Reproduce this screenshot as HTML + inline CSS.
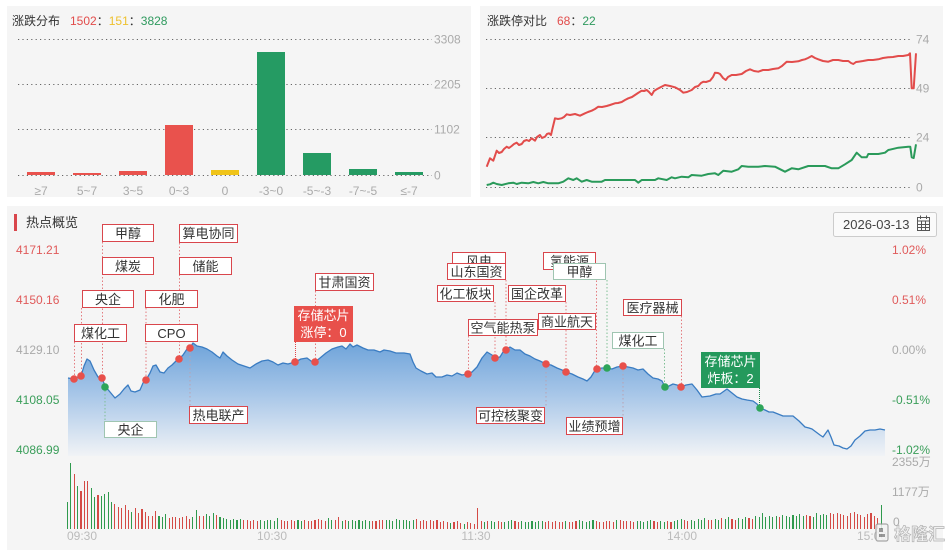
<!DOCTYPE html>
<html><head><meta charset="utf-8">
<style>
html,body{margin:0;padding:0;background:#fff;}
body{width:947px;height:550px;position:relative;overflow:hidden;font-family:"Liberation Sans","Noto Sans CJK SC",sans-serif;}
svg{position:absolute;left:0;top:0;}
text{font-family:"Liberation Sans","Noto Sans CJK SC",sans-serif;}
#vol{position:absolute;left:66.9px;top:0;height:529px;display:flex;align-items:flex-end;}
#vol i,#vol u{display:block;flex:none;width:1.1px;margin-right:2.31px;}
#vol i{background:#2f9a4d;}
#vol u{background:#d44a45;}
</style></head><body>
<svg width="947" height="550" viewBox="0 0 947 550">
<defs>
<linearGradient id="ag" x1="0" y1="343" x2="0" y2="456" gradientUnits="userSpaceOnUse">
<stop offset="0" stop-color="#6fa4da"/>
<stop offset="0.45" stop-color="#a7c6e8"/>
<stop offset="1" stop-color="#f1f3f6"/>
</linearGradient>
</defs>
<!-- panels -->
<rect x="7" y="6" width="464" height="191" fill="#f5f5f5"/>
<rect x="480" y="6" width="463" height="191" fill="#f5f5f5"/>
<rect x="7" y="206" width="936" height="344" fill="#f5f5f5"/>

<!-- top-left panel -->
<text x="12" y="25" font-size="12" fill="#333">涨跌分布</text>
<text x="70" y="25" font-size="12"><tspan fill="#e24c4b">1502</tspan><tspan fill="#333">：</tspan><tspan fill="#eec12e">151</tspan><tspan fill="#333">：</tspan><tspan fill="#2f9a5e">3828</tspan></text>
<g stroke="#666" stroke-width="1" stroke-dasharray="1.2 3.2">
<line x1="18" y1="39.5" x2="432" y2="39.5"/>
<line x1="18" y1="84.5" x2="432" y2="84.5"/>
<line x1="18" y1="129.5" x2="432" y2="129.5"/>
<line x1="18" y1="175.5" x2="432" y2="175.5"/>
</g>
<g font-size="12" fill="#aaa">
<text x="434" y="43.5">3308</text>
<text x="434" y="88.5">2205</text>
<text x="434" y="133.5">1102</text>
<text x="434" y="179.5">0</text>
</g>
<rect x="27" y="172" width="28" height="3" fill="#e9524d"/>
<rect x="73" y="173" width="28" height="2" fill="#e9524d"/>
<rect x="119" y="171" width="28" height="4" fill="#e9524d"/>
<rect x="165" y="125" width="28" height="50" fill="#e9524d"/>
<rect x="211" y="170" width="28" height="5" fill="#f0c419"/>
<rect x="257" y="52" width="28" height="123" fill="#259b63"/>
<rect x="303" y="153" width="28" height="22" fill="#259b63"/>
<rect x="349" y="169" width="28" height="6" fill="#259b63"/>
<rect x="395" y="172" width="28" height="3" fill="#259b63"/>
<g font-size="12" fill="#aaa" text-anchor="middle">
<text x="41" y="195">≥7</text>
<text x="87" y="195">5~7</text>
<text x="133" y="195">3~5</text>
<text x="179" y="195">0~3</text>
<text x="225" y="195">0</text>
<text x="271" y="195">-3~0</text>
<text x="317" y="195">-5~-3</text>
<text x="363" y="195">-7~-5</text>
<text x="409" y="195">≤-7</text>
</g>

<!-- top-right panel -->
<text x="487" y="25" font-size="12" fill="#333">涨跌停对比</text>
<text x="557" y="25" font-size="12"><tspan fill="#e24c4b">68</tspan><tspan fill="#333">：</tspan><tspan fill="#2f9a5e">22</tspan></text>
<g stroke="#666" stroke-width="1" stroke-dasharray="1.2 3.2">
<line x1="486" y1="39.5" x2="912" y2="39.5"/>
<line x1="486" y1="88.5" x2="912" y2="88.5"/>
<line x1="486" y1="137.5" x2="912" y2="137.5"/>
<line x1="486" y1="187.5" x2="912" y2="187.5"/>
</g>
<g font-size="12" fill="#aaa">
<text x="916" y="43.5">74</text>
<text x="916" y="92.5">49</text>
<text x="916" y="141.5">24</text>
<text x="916" y="191.5">0</text>
</g>
<polyline fill="none" stroke="#e24c4b" stroke-width="2" stroke-linejoin="round" points="486.7,166.7 490,158.3 493.3,160.7 496.7,150.7 499,153 501.7,152 504,149 506.7,146.7 509,148 511.7,146 514,144 516.7,142.7 519,145 521.7,144 524,141 526.7,140 529,141 531.7,138.3 535,140.7 537,137 540,135 542,138 545,136.7 547,134 549,133.3 551,135 552.3,129.3 555,118.3 558,119 561.7,118.3 564,117 566.7,114.3 570,115 575,114 580,115.7 585,113.3 588,112 591.7,110.7 595,109 598.3,106.7 602,107 606.7,106 610,105 615,103.3 618,103 621.7,102 625,100 628.3,98.3 632,97 635,95 638,93 641.7,90.7 644,91 646.7,90 649,92 651.7,95 654,91 656.7,89.3 661,87 665,85 670,86 675,87.3 680,90 683.3,92.7 687,92 691.7,90 695,87 698.3,86 701,83 703.3,81.7 706,82 710,80.7 713,77 715,72.7 718,73 720,74 723,78 725.7,80 728,77 731.7,75 736,75 741.7,74 746,71 750,69.3 754,71 758.3,71.7 763,70 768.3,70 773,69 778.3,68.3 782,66 786.7,61.7 792,62 798.3,61.3 802,60 805,59.3 808,58 811.7,56 815,58 818.3,59.3 823,61 828.3,61.7 833,60 838.3,60 843,61 848.3,61 851,63 853.3,64 856,62 858.3,61.7 863,61 868.3,60 873,60 878.3,59.3 883,58 888.3,57.3 893,57 898.3,56 903,56 908.3,55 910,53.3 911.7,88.3 913.7,88.3 916,53.3"/>
<polyline fill="none" stroke="#2a9a5a" stroke-width="2" stroke-linejoin="round" points="486.7,185 490,184.3 493.3,182.7 496.7,184 501.7,185 508.3,183.3 513.3,182.7 516.7,184 521.7,182.7 528.3,183.3 533.3,182 538.3,183.3 543.3,182 548.3,183.3 558.3,183.3 563.3,181.7 568.3,178.3 573.3,180 576.7,178.3 581.7,181.7 586.7,180 591.7,181.7 601.7,181.7 605,180 635,180 638.3,182.7 641.7,180 655,180 658.3,178.3 666.7,180 671.7,177.3 675,178.3 681.7,176.7 688.3,177.3 691.7,175 701.7,175.7 708.3,174 715,173.3 718.3,175 723.3,170.7 731.7,171.7 738.3,169.3 741.7,166 748.3,166.7 758.3,166.7 765,166 775,166.7 785,171.7 791.7,168.3 798.3,169.3 808.3,166 825,166 831.7,168.3 838.3,168.3 845,164.3 851.7,160 856.7,152.7 861.7,157.3 866.7,157.3 868.3,154 878.3,154 885,152.7 888.3,150 898.3,147.7 908.3,146.7 910.3,146.7 911.7,157.3 913.7,158 916,144.3"/>

<!-- main panel header -->
<rect x="14" y="214" width="3" height="17" fill="#d9464c"/>
<text x="26" y="227" font-size="13" fill="#333">热点概览</text>
<rect x="833.5" y="212.5" width="103" height="24" rx="2" fill="#fafafa" stroke="#ccc"/>
<text x="843" y="229" font-size="13" fill="#444">2026-03-13</text>
<g stroke="#555" fill="none" stroke-width="1">
<rect x="917.5" y="217.5" width="12" height="13"/>
<line x1="917.5" y1="221" x2="929.5" y2="221"/>
<line x1="920.5" y1="215.5" x2="920.5" y2="219"/>
<line x1="926.5" y1="215.5" x2="926.5" y2="219"/>
<line x1="921.5" y1="221" x2="921.5" y2="230"/>
<line x1="925.5" y1="221" x2="925.5" y2="230"/>
<line x1="917.5" y1="224.5" x2="929.5" y2="224.5"/>
<line x1="917.5" y1="227.5" x2="929.5" y2="227.5"/>
</g>

<!-- axis labels -->
<g font-size="12">
<text x="16" y="254" fill="#e05a5a">4171.21</text>
<text x="16" y="304" fill="#e05a5a">4150.16</text>
<text x="16" y="354" fill="#aaa">4129.10</text>
<text x="16" y="404" fill="#3a9e5a">4108.05</text>
<text x="16" y="454" fill="#3a9e5a">4086.99</text>
<text x="892" y="254" fill="#e05a5a">1.02%</text>
<text x="892" y="304" fill="#e05a5a">0.51%</text>
<text x="892" y="354" fill="#aaa">0.00%</text>
<text x="892" y="404" fill="#3a9e5a">-0.51%</text>
<text x="892" y="454" fill="#3a9e5a">-1.02%</text>
<text x="892" y="466" fill="#aaa">2355万</text>
<text x="892" y="496" fill="#aaa">1177万</text>
<text x="893" y="526" fill="#aaa">0</text>
<text x="67" y="540" fill="#bbb">09:30</text>
<text x="272" y="540" fill="#bbb" text-anchor="middle">10:30</text>
<text x="476" y="540" fill="#bbb" text-anchor="middle">11:30</text>
<text x="682" y="540" fill="#bbb" text-anchor="middle">14:00</text>
<text x="887" y="540" fill="#bbb" text-anchor="end">15:00</text>
</g>

<!-- price area -->
<path fill="url(#ag)" d="M68,378 L74,379 78,377 81,376 84,366 87,359 90,361 94,370 98,377 102,378 105,386 110,392 115,398 120,394 124,389 128,385 131,391 135,392 140,390 143,383 146,380 150,373 153,366 156,365 160,372 164,373 168,368 172,365 176,361 179,359 183,355 187,349 190,348 193,343 197,346 202,347 207,349 212,352 217,356 220,358 223,352 227,356 232,360 238,364 244,366 250,368 256,364 262,361 268,360 273,362 278,365 283,363 288,364 295,362 301,359 307,358 311,361 315,362 320,358 326,353 332,349 338,347 342,346 346,349 350,344 353,347 357,345 363,348 368,350 374,350 380,352 384,350 390,351 396,353 404,353 410,354 413,362 416,368 421,371 427,374 432,373 436,377 442,377 447,375 452,376 457,373 462,375 468,374 472,372 477,367 482,358 487,352 492,355 495,358 500,357 503,352 506,350 510,347 515,350 520,350 525,354 530,356 535,359 540,361 546,364 551,365 557,368 562,370 566,372 572,374 578,377 583,379 587,381 591,377 594,372 597,369 602,368 607,368 612,369 617,367 623,366 628,367 633,368 638,370 643,369 648,374 653,378 658,379 662,381 665,387 669,386 673,384 677,385 681,387 686,385 692,384 697,390 702,397 710,396 716,394 720,394 727,389 732,393 737,397 742,399 747,400 753,401 757,404 760,408 765,410 769,412 773,412 778,414 783,416 788,416 793,416 799,421 805,427 809,428 812,429 816,432 820,435 823,437 828,430 831,437 834,445 839,446 843,448 847,449 851,446 855,440 860,436 865,431 870,430 875,430 880,429 885,430 L885,456 L68,456 Z"/>
<polyline fill="none" stroke="#3a7cc2" stroke-width="1.3" stroke-linejoin="round" points="68,378 74,379 78,377 81,376 84,366 87,359 90,361 94,370 98,377 102,378 105,386 110,392 115,398 120,394 124,389 128,385 131,391 135,392 140,390 143,383 146,380 150,373 153,366 156,365 160,372 164,373 168,368 172,365 176,361 179,359 183,355 187,349 190,348 193,343 197,346 202,347 207,349 212,352 217,356 220,358 223,352 227,356 232,360 238,364 244,366 250,368 256,364 262,361 268,360 273,362 278,365 283,363 288,364 295,362 301,359 307,358 311,361 315,362 320,358 326,353 332,349 338,347 342,346 346,349 350,344 353,347 357,345 363,348 368,350 374,350 380,352 384,350 390,351 396,353 404,353 410,354 413,362 416,368 421,371 427,374 432,373 436,377 442,377 447,375 452,376 457,373 462,375 468,374 472,372 477,367 482,358 487,352 492,355 495,358 500,357 503,352 506,350 510,347 515,350 520,350 525,354 530,356 535,359 540,361 546,364 551,365 557,368 562,370 566,372 572,374 578,377 583,379 587,381 591,377 594,372 597,369 602,368 607,368 612,369 617,367 623,366 628,367 633,368 638,370 643,369 648,374 653,378 658,379 662,381 665,387 669,386 673,384 677,385 681,387 686,385 692,384 697,390 702,397 710,396 716,394 720,394 727,389 732,393 737,397 742,399 747,400 753,401 757,404 760,408 765,410 769,412 773,412 778,414 783,416 788,416 793,416 799,421 805,427 809,428 812,429 816,432 820,435 823,437 828,430 831,437 834,445 839,446 843,448 847,449 851,446 855,440 860,436 865,431 870,430 875,430 880,429 885,430"/>

<!-- connectors -->
<g stroke="#e47c80" stroke-width="1" stroke-dasharray="1.5 2" fill="none">
<line x1="74.5" y1="342" x2="74.5" y2="379"/>
<line x1="81.5" y1="308" x2="81.5" y2="376"/>
<line x1="102.5" y1="242" x2="102.5" y2="378"/>
<line x1="146" y1="308" x2="146" y2="380"/>
<line x1="179.5" y1="243" x2="179.5" y2="359"/>
<line x1="315.5" y1="291" x2="315.5" y2="362"/>
<line x1="468.5" y1="336" x2="468.5" y2="374"/>
<line x1="495" y1="302" x2="495" y2="358"/>
<line x1="506" y1="280" x2="506" y2="350"/>
<line x1="566" y1="302" x2="566" y2="372"/>
<line x1="596.5" y1="270" x2="596.5" y2="369"/>
<line x1="681.5" y1="316" x2="681.5" y2="387"/>
</g>
<g stroke="#e0464c" stroke-width="1" stroke-dasharray="1 1">
<line x1="295.5" y1="342" x2="295.5" y2="362"/>
</g>
<g stroke="#b9a2b2" stroke-width="1" stroke-dasharray="1.5 2.5">
<line x1="190" y1="348" x2="190" y2="406"/>
<line x1="546" y1="364" x2="546" y2="407"/>
<line x1="623" y1="366" x2="623" y2="417"/>
</g>
<g stroke="#7fbf95" stroke-width="1" stroke-dasharray="1.5 2">
<line x1="105" y1="387" x2="105" y2="421"/>
<line x1="607" y1="280" x2="607" y2="368"/>
<line x1="664.5" y1="349" x2="664.5" y2="387"/>
</g>
<g stroke="#1e8a4c" stroke-width="1" stroke-dasharray="1 1">
<line x1="759.5" y1="388" x2="759.5" y2="408"/>
</g>

<!-- dots -->
<g fill="#e8504b">
<circle cx="74" cy="379" r="3.8"/><circle cx="81" cy="376" r="3.8"/><circle cx="102" cy="378" r="3.8"/>
<circle cx="146" cy="380" r="3.8"/><circle cx="179" cy="359" r="3.8"/><circle cx="190" cy="348" r="3.8"/>
<circle cx="295" cy="362" r="3.8"/><circle cx="315" cy="362" r="3.8"/><circle cx="468" cy="374" r="3.8"/>
<circle cx="495" cy="358" r="3.8"/><circle cx="506" cy="350" r="3.8"/><circle cx="546" cy="364" r="3.8"/>
<circle cx="566" cy="372" r="3.8"/><circle cx="597" cy="369" r="3.8"/><circle cx="623" cy="366" r="3.8"/>
<circle cx="681" cy="387" r="3.8"/>
</g>
<g fill="#2ea55a">
<circle cx="105" cy="387" r="3.8"/><circle cx="607" cy="368" r="3.8"/><circle cx="665" cy="387" r="3.8"/><circle cx="760" cy="408" r="3.8"/>
</g>

<!-- labels -->
<g font-size="13" fill="#333" text-anchor="middle">
<g fill="#fff" stroke="#d9464c" stroke-width="1">
<rect x="102.5" y="224.5" width="51" height="17"/>
<rect x="179.5" y="224.5" width="58" height="18"/>
<rect x="102.5" y="257.5" width="51" height="17"/>
<rect x="179.5" y="257.5" width="52" height="17"/>
<rect x="82.5" y="290.5" width="51" height="17"/>
<rect x="145.5" y="290.5" width="52" height="17"/>
<rect x="74.5" y="324.5" width="52" height="17"/>
<rect x="145.5" y="324.5" width="52" height="17"/>
<rect x="189.5" y="406.5" width="58" height="17"/>
<rect x="315.5" y="273.5" width="58" height="17"/>
<rect x="452.5" y="252.5" width="53" height="17"/>
</g>
<text x="128" y="238">甲醇</text>
<text x="208.5" y="238">算电协同</text>
<text x="128" y="271">煤炭</text>
<text x="205.5" y="271">储能</text>
<text x="108" y="304">央企</text>
<text x="171.5" y="304">化肥</text>
<text x="100.5" y="338">煤化工</text>
<text x="171.5" y="338">CPO</text>
<text x="218.5" y="420">热电联产</text>
<text x="344.5" y="287">甘肃国资</text>
<text x="479" y="266">风电</text>
<rect x="447.5" y="263.5" width="58" height="16" fill="#fff" stroke="#d9464c"/>
<text x="476.5" y="276.5">山东国资</text>
<g fill="#fff" stroke="#d9464c" stroke-width="1">
<rect x="437.5" y="285.5" width="56" height="16"/>
<rect x="508.5" y="285.5" width="57" height="16"/>
<rect x="468.5" y="319.5" width="69" height="16"/>
<rect x="538.5" y="313.5" width="57" height="16"/>
<rect x="543.5" y="252.5" width="52" height="17"/>
</g>
<text x="465.5" y="298.5">化工板块</text>
<text x="537" y="298.5">国企改革</text>
<text x="503" y="332.5">空气能热泵</text>
<text x="567" y="326.5">商业航天</text>
<text x="569.5" y="266">氢能源</text>
<rect x="553.5" y="263.5" width="52" height="16" fill="#fff" stroke="#9fc5b1"/>
<text x="579.5" y="276.5">甲醇</text>
<rect x="104.5" y="421.5" width="52" height="16" fill="#fff" stroke="#9fc5b1"/>
<text x="130.5" y="434.5">央企</text>
<g fill="#fff" stroke="#d9464c" stroke-width="1">
<rect x="476.5" y="407.5" width="68" height="16"/>
<rect x="566.5" y="417.5" width="56" height="17"/>
<rect x="623.5" y="299.5" width="58" height="16"/>
</g>
<text x="510.5" y="420.5">可控核聚变</text>
<text x="594.5" y="431">业绩预增</text>
<text x="652.5" y="312.5">医疗器械</text>
<rect x="612.5" y="332.5" width="51" height="16" fill="#fff" stroke="#9fc5b1"/>
<text x="638" y="345.5">煤化工</text>
<rect x="294" y="306" width="59" height="36" fill="#e8504b"/>
<text x="323.5" y="320" fill="#fff">存储芯片</text>
<text x="323.5" y="337" fill="#fff">涨停：0</text>
<rect x="701" y="352" width="59" height="36" fill="#24995c"/>
<text x="730.5" y="366" fill="#fff">存储芯片</text>
<text x="730.5" y="383" fill="#fff">炸板：2</text>
</g>
</svg>

<div id="vol"><i style="height:27px"></i><i style="height:66px"></i><u style="height:55px"></u><i style="height:43px"></i><u style="height:38px"></u><u style="height:48px"></u><u style="height:48px"></u><i style="height:41px"></i><i style="height:32px"></i><u style="height:34px"></u><i style="height:33px"></i><i style="height:35px"></i><i style="height:37px"></i><i style="height:27px"></i><u style="height:25px"></u><u style="height:22px"></u><u style="height:21px"></u><u style="height:24px"></u><u style="height:19px"></u><i style="height:17px"></i><u style="height:21px"></u><u style="height:16px"></u><u style="height:20px"></u><u style="height:17px"></u><u style="height:13px"></u><u style="height:13px"></u><u style="height:18px"></u><i style="height:13px"></i><i style="height:12px"></i><i style="height:15px"></i><u style="height:11px"></u><u style="height:12px"></u><u style="height:12px"></u><u style="height:11px"></u><u style="height:12px"></u><u style="height:13px"></u><u style="height:10px"></u><i style="height:12px"></i><i style="height:19px"></i><u style="height:13px"></u><u style="height:13px"></u><i style="height:15px"></i><i style="height:13px"></i><i style="height:16px"></i><u style="height:14px"></u><i style="height:12px"></i><i style="height:11px"></i><i style="height:10px"></i><i style="height:9px"></i><i style="height:10px"></i><i style="height:9px"></i><i style="height:10px"></i><u style="height:9px"></u><u style="height:9px"></u><u style="height:8px"></u><u style="height:9px"></u><u style="height:8px"></u><i style="height:9px"></i><i style="height:8px"></i><i style="height:9px"></i><i style="height:9px"></i><i style="height:8px"></i><i style="height:11px"></i><u style="height:9px"></u><u style="height:8px"></u><u style="height:8px"></u><u style="height:9px"></u><u style="height:8px"></u><i style="height:9px"></i><i style="height:8px"></i><u style="height:9px"></u><u style="height:8px"></u><u style="height:8px"></u><u style="height:9px"></u><u style="height:10px"></u><u style="height:9px"></u><u style="height:8px"></u><i style="height:11px"></i><i style="height:9px"></i><u style="height:9px"></u><u style="height:12px"></u><i style="height:8px"></i><u style="height:9px"></u><i style="height:8px"></i><i style="height:9px"></i><i style="height:8px"></i><i style="height:9px"></i><i style="height:8px"></i><i style="height:9px"></i><i style="height:8px"></i><u style="height:8px"></u><u style="height:8px"></u><u style="height:9px"></u><u style="height:9px"></u><i style="height:9px"></i><i style="height:9px"></i><i style="height:8px"></i><i style="height:10px"></i><i style="height:9px"></i><i style="height:9px"></i><i style="height:9px"></i><i style="height:8px"></i><i style="height:9px"></i><u style="height:10px"></u><u style="height:8px"></u><u style="height:9px"></u><u style="height:8px"></u><u style="height:9px"></u><u style="height:8px"></u><u style="height:9px"></u><u style="height:7px"></u><u style="height:8px"></u><u style="height:7px"></u><i style="height:6px"></i><u style="height:7px"></u><u style="height:8px"></u><u style="height:6px"></u><i style="height:5px"></i><u style="height:7px"></u><u style="height:6px"></u><u style="height:5px"></u><u style="height:21px"></u><u style="height:8px"></u><i style="height:7px"></i><u style="height:8px"></u><i style="height:8px"></i><i style="height:7px"></i><u style="height:8px"></u><u style="height:7px"></u><i style="height:7px"></i><i style="height:8px"></i><i style="height:9px"></i><u style="height:8px"></u><u style="height:7px"></u><i style="height:8px"></i><i style="height:7px"></i><i style="height:7px"></i><i style="height:8px"></i><i style="height:7px"></i><i style="height:8px"></i><i style="height:8px"></i><u style="height:7px"></u><u style="height:8px"></u><u style="height:7px"></u><u style="height:8px"></u><u style="height:7px"></u><u style="height:7px"></u><i style="height:8px"></i><u style="height:7px"></u><u style="height:7px"></u><u style="height:8px"></u><i style="height:9px"></i><i style="height:8px"></i><i style="height:7px"></i><i style="height:8px"></i><i style="height:9px"></i><u style="height:8px"></u><u style="height:7px"></u><u style="height:7px"></u><u style="height:8px"></u><u style="height:8px"></u><u style="height:7px"></u><i style="height:9px"></i><u style="height:9px"></u><u style="height:8px"></u><u style="height:8px"></u><u style="height:8px"></u><u style="height:7px"></u><i style="height:8px"></i><i style="height:8px"></i><i style="height:7px"></i><i style="height:8px"></i><i style="height:9px"></i><u style="height:8px"></u><u style="height:7px"></u><i style="height:8px"></i><i style="height:7px"></i><u style="height:8px"></u><u style="height:7px"></u><i style="height:8px"></i><i style="height:9px"></i><i style="height:10px"></i><u style="height:9px"></u><u style="height:8px"></u><i style="height:9px"></i><i style="height:8px"></i><i style="height:10px"></i><i style="height:9px"></i><i style="height:11px"></i><u style="height:9px"></u><u style="height:9px"></u><i style="height:10px"></i><i style="height:9px"></i><u style="height:11px"></u><i style="height:10px"></i><i style="height:12px"></i><u style="height:10px"></u><u style="height:9px"></u><i style="height:11px"></i><i style="height:10px"></i><i style="height:12px"></i><u style="height:11px"></u><u style="height:10px"></u><i style="height:13px"></i><i style="height:12px"></i><i style="height:16px"></i><i style="height:12px"></i><i style="height:13px"></i><i style="height:12px"></i><i style="height:13px"></i><u style="height:12px"></u><i style="height:14px"></i><i style="height:13px"></i><i style="height:12px"></i><i style="height:14px"></i><i style="height:13px"></i><i style="height:15px"></i><i style="height:13px"></i><u style="height:14px"></u><u style="height:13px"></u><i style="height:12px"></i><i style="height:16px"></i><i style="height:14px"></i><i style="height:15px"></i><i style="height:14px"></i><u style="height:16px"></u><u style="height:15px"></u><u style="height:16px"></u><u style="height:15px"></u><u style="height:14px"></u><u style="height:13px"></u><u style="height:16px"></u><u style="height:17px"></u><u style="height:15px"></u><u style="height:14px"></u><u style="height:12px"></u><u style="height:15px"></u><u style="height:16px"></u><u style="height:13px"></u><u style="height:11px"></u><i style="height:24px"></i></div>

<svg width="947" height="550" viewBox="0 0 947 550" style="pointer-events:none">
<g opacity="0.85">
<rect x="876" y="524" width="12" height="17" rx="2" fill="#f3f3f3" stroke="#999" stroke-width="1.2"/>
<rect x="879" y="528" width="4" height="4" fill="#888"/>
<rect x="879" y="534" width="6" height="3" fill="#888"/>
<text x="894" y="540" font-size="17" font-weight="bold" fill="#f2f2f2" stroke="#a8a8a8" stroke-width="0.7">格隆汇</text>
</g>
</svg>
</body></html>
